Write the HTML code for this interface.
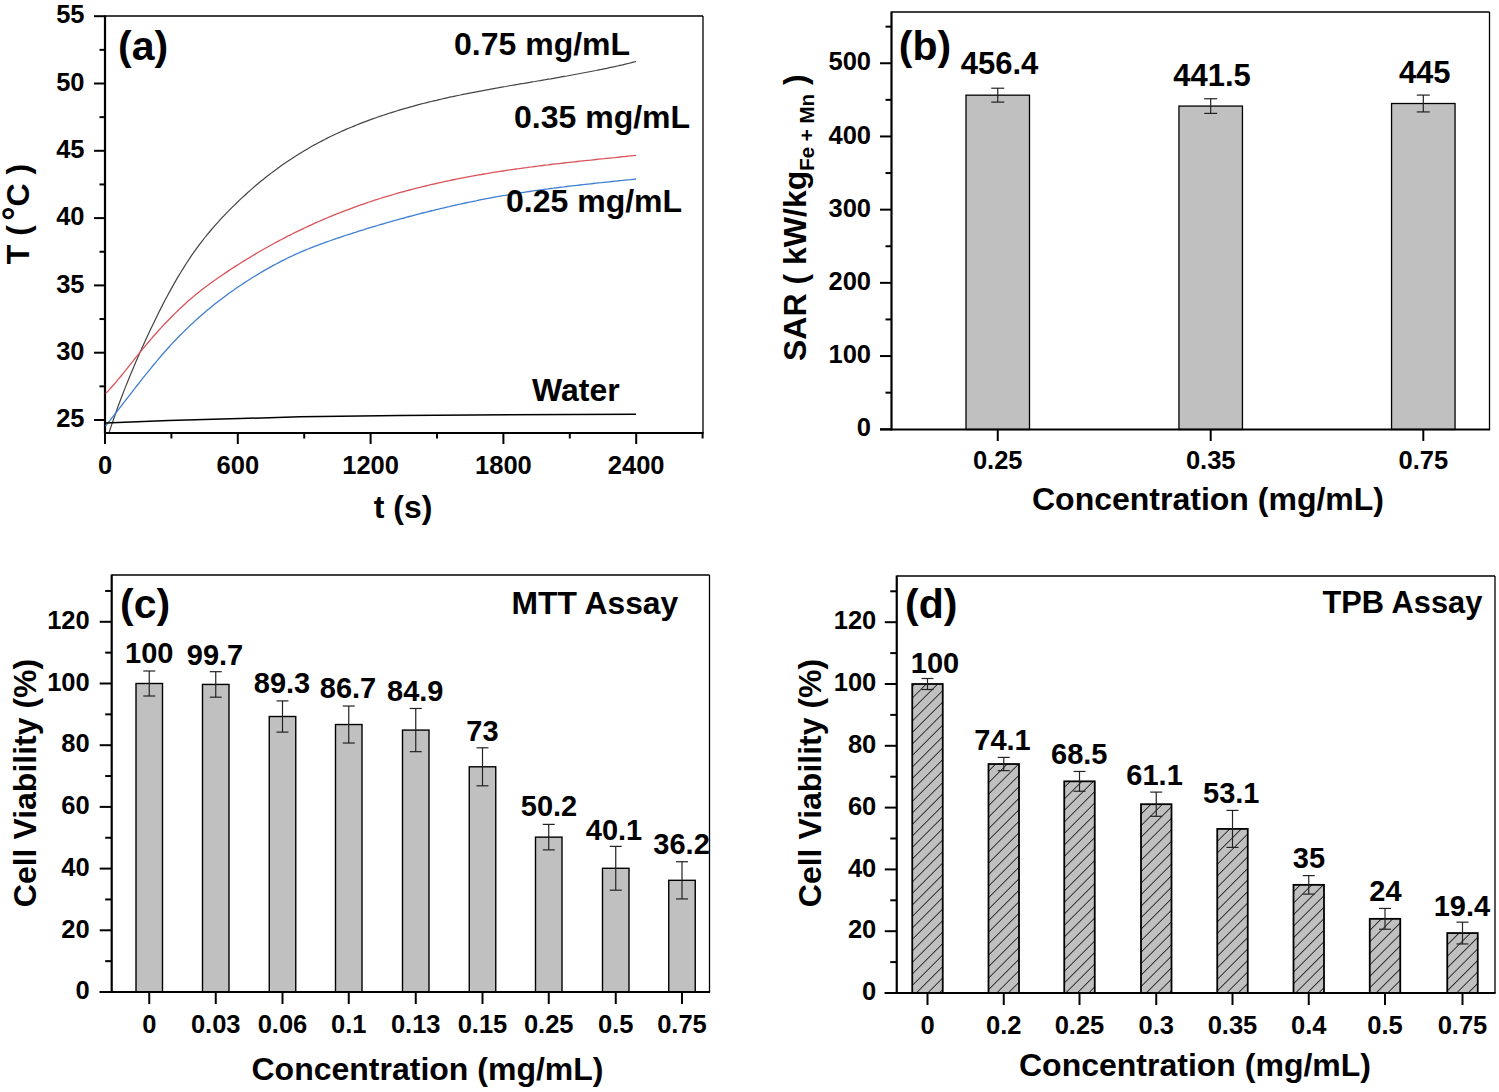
<!DOCTYPE html>
<html><head><meta charset="utf-8"><style>
html,body{margin:0;padding:0;background:#fff;}
svg{display:block;font-family:"Liberation Sans", sans-serif;}
</style></head><body>
<svg width="1499" height="1092" viewBox="0 0 1499 1092">
<defs><pattern id="hatch" patternUnits="userSpaceOnUse" width="8.13" height="8.13" patternTransform="rotate(45)">
<rect width="8.13" height="8.13" fill="#c0c0c0"/><line x1="0" y1="0" x2="0" y2="8.13" stroke="#000" stroke-width="1.5"/></pattern>
<clipPath id="clipA"><rect x="105" y="16" width="598" height="416"/></clipPath></defs>
<rect width="1499" height="1092" fill="#fff"/>
<line x1="105.00" y1="16.00" x2="703.00" y2="16.00" stroke="#000" stroke-width="1.3"/>
<line x1="703.00" y1="16.00" x2="703.00" y2="433.00" stroke="#000" stroke-width="1.3"/>
<line x1="105.00" y1="15.40" x2="105.00" y2="434.00" stroke="#000" stroke-width="2.2"/>
<line x1="104.00" y1="433.00" x2="703.60" y2="433.00" stroke="#000" stroke-width="2.2"/>
<line x1="94.00" y1="420.00" x2="105.00" y2="420.00" stroke="#000" stroke-width="2"/>
<text x="84.50" y="427.20" font-size="25.5" text-anchor="end" font-weight="bold" >25</text>
<line x1="94.00" y1="352.70" x2="105.00" y2="352.70" stroke="#000" stroke-width="2"/>
<text x="84.50" y="359.90" font-size="25.5" text-anchor="end" font-weight="bold" >30</text>
<line x1="94.00" y1="285.40" x2="105.00" y2="285.40" stroke="#000" stroke-width="2"/>
<text x="84.50" y="292.60" font-size="25.5" text-anchor="end" font-weight="bold" >35</text>
<line x1="94.00" y1="218.10" x2="105.00" y2="218.10" stroke="#000" stroke-width="2"/>
<text x="84.50" y="225.30" font-size="25.5" text-anchor="end" font-weight="bold" >40</text>
<line x1="94.00" y1="150.80" x2="105.00" y2="150.80" stroke="#000" stroke-width="2"/>
<text x="84.50" y="158.00" font-size="25.5" text-anchor="end" font-weight="bold" >45</text>
<line x1="94.00" y1="83.50" x2="105.00" y2="83.50" stroke="#000" stroke-width="2"/>
<text x="84.50" y="90.70" font-size="25.5" text-anchor="end" font-weight="bold" >50</text>
<line x1="94.00" y1="16.20" x2="105.00" y2="16.20" stroke="#000" stroke-width="2"/>
<text x="84.50" y="23.40" font-size="25.5" text-anchor="end" font-weight="bold" >55</text>
<line x1="99.50" y1="386.35" x2="105.00" y2="386.35" stroke="#000" stroke-width="2"/>
<line x1="99.50" y1="319.05" x2="105.00" y2="319.05" stroke="#000" stroke-width="2"/>
<line x1="99.50" y1="251.75" x2="105.00" y2="251.75" stroke="#000" stroke-width="2"/>
<line x1="99.50" y1="184.45" x2="105.00" y2="184.45" stroke="#000" stroke-width="2"/>
<line x1="99.50" y1="117.15" x2="105.00" y2="117.15" stroke="#000" stroke-width="2"/>
<line x1="99.50" y1="49.85" x2="105.00" y2="49.85" stroke="#000" stroke-width="2"/>
<line x1="105.00" y1="433.00" x2="105.00" y2="444.00" stroke="#000" stroke-width="2"/>
<text x="105.00" y="474.00" font-size="25.5" text-anchor="middle" font-weight="bold" >0</text>
<line x1="237.80" y1="433.00" x2="237.80" y2="444.00" stroke="#000" stroke-width="2"/>
<text x="237.80" y="474.00" font-size="25.5" text-anchor="middle" font-weight="bold" >600</text>
<line x1="370.60" y1="433.00" x2="370.60" y2="444.00" stroke="#000" stroke-width="2"/>
<text x="370.60" y="474.00" font-size="25.5" text-anchor="middle" font-weight="bold" >1200</text>
<line x1="503.40" y1="433.00" x2="503.40" y2="444.00" stroke="#000" stroke-width="2"/>
<text x="503.40" y="474.00" font-size="25.5" text-anchor="middle" font-weight="bold" >1800</text>
<line x1="636.20" y1="433.00" x2="636.20" y2="444.00" stroke="#000" stroke-width="2"/>
<text x="636.20" y="474.00" font-size="25.5" text-anchor="middle" font-weight="bold" >2400</text>
<line x1="171.40" y1="433.00" x2="171.40" y2="438.50" stroke="#000" stroke-width="2"/>
<line x1="304.20" y1="433.00" x2="304.20" y2="438.50" stroke="#000" stroke-width="2"/>
<line x1="437.00" y1="433.00" x2="437.00" y2="438.50" stroke="#000" stroke-width="2"/>
<line x1="569.80" y1="433.00" x2="569.80" y2="438.50" stroke="#000" stroke-width="2"/>
<line x1="702.60" y1="433.00" x2="702.60" y2="438.50" stroke="#000" stroke-width="2"/>
<g clip-path="url(#clipA)">
<path d="M106.5,440.5 L109.2,432.2 L111.8,424.2 L114.5,416.5 L117.1,409.0 L119.8,401.7 L122.5,394.7 L125.1,387.9 L127.8,381.2 L130.4,374.7 L133.1,368.4 L135.8,362.1 L138.4,356.0 L141.1,350.0 L143.8,344.1 L146.4,338.3 L149.1,332.6 L151.7,326.9 L154.4,321.4 L157.1,316.0 L159.7,310.6 L162.4,305.4 L165.0,300.3 L167.7,295.3 L170.4,290.4 L173.0,285.6 L175.7,280.9 L178.3,276.4 L181.0,272.0 L183.7,267.6 L186.3,263.5 L189.0,259.4 L191.6,255.4 L194.3,251.6 L197.0,247.9 L199.6,244.3 L202.3,240.8 L204.9,237.5 L207.6,234.2 L210.3,231.0 L212.9,227.9 L215.6,224.8 L218.3,221.8 L220.9,218.9 L223.6,216.1 L226.2,213.3 L228.9,210.6 L231.6,207.9 L234.2,205.3 L236.9,202.7 L239.5,200.1 L242.2,197.6 L244.9,195.2 L247.5,192.7 L250.2,190.4 L252.8,188.1 L255.5,185.8 L258.2,183.5 L260.8,181.3 L263.5,179.2 L266.1,177.0 L268.8,175.0 L271.5,172.9 L274.1,170.9 L276.8,169.0 L279.5,167.0 L282.1,165.1 L284.8,163.3 L287.4,161.5 L290.1,159.7 L292.8,157.9 L295.4,156.2 L298.1,154.5 L300.7,152.9 L303.4,151.3 L306.1,149.7 L308.7,148.2 L311.4,146.6 L314.0,145.1 L316.7,143.7 L319.4,142.3 L322.0,140.9 L324.7,139.5 L327.3,138.1 L330.0,136.8 L332.7,135.5 L335.3,134.3 L338.0,133.0 L340.7,131.8 L343.3,130.6 L346.0,129.4 L348.6,128.3 L351.3,127.2 L354.0,126.1 L356.6,125.0 L359.3,123.9 L361.9,122.9 L364.6,121.9 L367.3,120.9 L369.9,119.9 L372.6,118.9 L375.2,118.0 L377.9,117.0 L380.6,116.1 L383.2,115.2 L385.9,114.4 L388.5,113.5 L391.2,112.6 L393.9,111.8 L396.5,111.0 L399.2,110.2 L401.8,109.4 L404.5,108.6 L407.2,107.9 L409.8,107.1 L412.5,106.4 L415.2,105.6 L417.8,104.9 L420.5,104.2 L423.1,103.5 L425.8,102.9 L428.5,102.2 L431.1,101.5 L433.8,100.9 L436.4,100.3 L439.1,99.6 L441.8,99.0 L444.4,98.4 L447.1,97.8 L449.7,97.2 L452.4,96.7 L455.1,96.1 L457.7,95.5 L460.4,95.0 L463.0,94.4 L465.7,93.9 L468.4,93.3 L471.0,92.8 L473.7,92.3 L476.4,91.8 L479.0,91.3 L481.7,90.8 L484.3,90.3 L487.0,89.8 L489.7,89.3 L492.3,88.8 L495.0,88.3 L497.6,87.9 L500.3,87.4 L503.0,86.9 L505.6,86.5 L508.3,86.0 L510.9,85.5 L513.6,85.1 L516.3,84.6 L518.9,84.2 L521.6,83.7 L524.2,83.3 L526.9,82.8 L529.6,82.4 L532.2,81.9 L534.9,81.5 L537.6,81.0 L540.2,80.6 L542.9,80.1 L545.5,79.7 L548.2,79.2 L550.9,78.8 L553.5,78.3 L556.2,77.8 L558.8,77.4 L561.5,76.9 L564.2,76.4 L566.8,76.0 L569.5,75.5 L572.1,75.0 L574.8,74.5 L577.5,74.0 L580.1,73.5 L582.8,73.0 L585.4,72.5 L588.1,72.0 L590.8,71.5 L593.4,71.0 L596.1,70.5 L598.7,69.9 L601.4,69.4 L604.1,68.8 L606.7,68.3 L609.4,67.7 L612.1,67.1 L614.7,66.6 L617.4,66.0 L620.0,65.4 L622.7,64.8 L625.4,64.1 L628.0,63.5 L630.7,62.9 L633.3,62.2 L636.0,61.5" fill="none" stroke="#444" stroke-width="1.2"/>
<path d="M105.5,393.6 L108.2,390.9 L110.8,388.0 L113.5,385.0 L116.2,381.9 L118.8,378.7 L121.5,375.5 L124.2,372.2 L126.8,368.8 L129.5,365.4 L132.2,362.1 L134.8,358.7 L137.5,355.4 L140.2,352.1 L142.8,348.8 L145.5,345.6 L148.2,342.5 L150.8,339.4 L153.5,336.3 L156.2,333.3 L158.8,330.3 L161.5,327.4 L164.1,324.5 L166.8,321.7 L169.5,319.0 L172.1,316.2 L174.8,313.6 L177.5,311.0 L180.1,308.4 L182.8,306.0 L185.5,303.5 L188.1,301.1 L190.8,298.8 L193.5,296.6 L196.1,294.3 L198.8,292.2 L201.5,290.1 L204.1,288.0 L206.8,286.0 L209.5,284.0 L212.1,282.1 L214.8,280.2 L217.5,278.3 L220.1,276.5 L222.8,274.7 L225.5,272.9 L228.1,271.1 L230.8,269.3 L233.5,267.6 L236.1,265.9 L238.8,264.2 L241.5,262.5 L244.1,260.9 L246.8,259.2 L249.5,257.6 L252.1,256.0 L254.8,254.4 L257.5,252.8 L260.1,251.3 L262.8,249.7 L265.4,248.2 L268.1,246.7 L270.8,245.2 L273.4,243.8 L276.1,242.3 L278.8,240.9 L281.4,239.5 L284.1,238.1 L286.8,236.7 L289.4,235.3 L292.1,234.0 L294.8,232.7 L297.4,231.4 L300.1,230.1 L302.8,228.8 L305.4,227.5 L308.1,226.3 L310.8,225.1 L313.4,223.9 L316.1,222.7 L318.8,221.5 L321.4,220.3 L324.1,219.2 L326.8,218.0 L329.4,216.9 L332.1,215.8 L334.8,214.7 L337.4,213.7 L340.1,212.6 L342.8,211.6 L345.4,210.6 L348.1,209.6 L350.8,208.6 L353.4,207.6 L356.1,206.6 L358.8,205.7 L361.4,204.7 L364.1,203.8 L366.8,202.9 L369.4,202.0 L372.1,201.1 L374.7,200.2 L377.4,199.4 L380.1,198.5 L382.7,197.7 L385.4,196.9 L388.1,196.1 L390.7,195.3 L393.4,194.5 L396.1,193.7 L398.7,192.9 L401.4,192.2 L404.1,191.5 L406.7,190.7 L409.4,190.0 L412.1,189.3 L414.7,188.6 L417.4,187.9 L420.1,187.3 L422.7,186.6 L425.4,186.0 L428.1,185.3 L430.7,184.7 L433.4,184.1 L436.1,183.5 L438.7,182.9 L441.4,182.3 L444.1,181.7 L446.7,181.1 L449.4,180.6 L452.1,180.0 L454.7,179.5 L457.4,178.9 L460.1,178.4 L462.7,177.9 L465.4,177.4 L468.1,176.9 L470.7,176.4 L473.4,175.9 L476.1,175.4 L478.7,174.9 L481.4,174.5 L484.0,174.0 L486.7,173.6 L489.4,173.1 L492.0,172.7 L494.7,172.2 L497.4,171.8 L500.0,171.4 L502.7,171.0 L505.4,170.6 L508.0,170.2 L510.7,169.8 L513.4,169.4 L516.0,169.0 L518.7,168.7 L521.4,168.3 L524.0,167.9 L526.7,167.6 L529.4,167.2 L532.0,166.9 L534.7,166.5 L537.4,166.2 L540.0,165.8 L542.7,165.5 L545.4,165.2 L548.0,164.9 L550.7,164.5 L553.4,164.2 L556.0,163.9 L558.7,163.6 L561.4,163.3 L564.0,163.0 L566.7,162.7 L569.4,162.4 L572.0,162.1 L574.7,161.8 L577.4,161.5 L580.0,161.2 L582.7,160.9 L585.3,160.6 L588.0,160.3 L590.7,160.1 L593.3,159.8 L596.0,159.5 L598.7,159.2 L601.3,158.9 L604.0,158.7 L606.7,158.4 L609.3,158.1 L612.0,157.8 L614.7,157.6 L617.3,157.3 L620.0,157.0 L622.7,156.7 L625.3,156.5 L628.0,156.2 L630.7,155.9 L633.3,155.6 L636.0,155.4" fill="none" stroke="#d9545a" stroke-width="1.3"/>
<path d="M105.5,426.0 L108.2,422.7 L110.8,419.3 L113.5,415.9 L116.2,412.5 L118.8,409.1 L121.5,405.6 L124.2,402.2 L126.8,398.7 L129.5,395.3 L132.2,391.8 L134.8,388.4 L137.5,385.0 L140.2,381.6 L142.8,378.2 L145.5,374.9 L148.2,371.6 L150.8,368.3 L153.5,365.0 L156.2,361.8 L158.8,358.6 L161.5,355.5 L164.1,352.5 L166.8,349.5 L169.5,346.5 L172.1,343.6 L174.8,340.8 L177.5,338.0 L180.1,335.3 L182.8,332.6 L185.5,330.0 L188.1,327.4 L190.8,324.8 L193.5,322.4 L196.1,319.9 L198.8,317.5 L201.5,315.2 L204.1,312.9 L206.8,310.6 L209.5,308.4 L212.1,306.2 L214.8,304.1 L217.5,302.0 L220.1,299.9 L222.8,297.9 L225.5,295.9 L228.1,294.0 L230.8,292.0 L233.5,290.2 L236.1,288.3 L238.8,286.5 L241.5,284.7 L244.1,282.9 L246.8,281.2 L249.5,279.5 L252.1,277.8 L254.8,276.2 L257.5,274.6 L260.1,273.0 L262.8,271.4 L265.4,269.9 L268.1,268.4 L270.8,266.9 L273.4,265.4 L276.1,264.0 L278.8,262.6 L281.4,261.2 L284.1,259.9 L286.8,258.5 L289.4,257.2 L292.1,256.0 L294.8,254.7 L297.4,253.5 L300.1,252.3 L302.8,251.2 L305.4,250.1 L308.1,249.0 L310.8,247.9 L313.4,246.8 L316.1,245.8 L318.8,244.8 L321.4,243.8 L324.1,242.9 L326.8,241.9 L329.4,241.0 L332.1,240.0 L334.8,239.1 L337.4,238.2 L340.1,237.3 L342.8,236.4 L345.4,235.5 L348.1,234.6 L350.8,233.8 L353.4,232.9 L356.1,232.1 L358.8,231.2 L361.4,230.4 L364.1,229.6 L366.8,228.7 L369.4,227.9 L372.1,227.1 L374.7,226.3 L377.4,225.5 L380.1,224.7 L382.7,224.0 L385.4,223.2 L388.1,222.4 L390.7,221.7 L393.4,220.9 L396.1,220.2 L398.7,219.4 L401.4,218.7 L404.1,218.0 L406.7,217.2 L409.4,216.5 L412.1,215.8 L414.7,215.1 L417.4,214.4 L420.1,213.7 L422.7,213.0 L425.4,212.4 L428.1,211.7 L430.7,211.0 L433.4,210.4 L436.1,209.7 L438.7,209.1 L441.4,208.4 L444.1,207.8 L446.7,207.2 L449.4,206.6 L452.1,205.9 L454.7,205.3 L457.4,204.7 L460.1,204.2 L462.7,203.6 L465.4,203.0 L468.1,202.4 L470.7,201.9 L473.4,201.3 L476.1,200.8 L478.7,200.2 L481.4,199.7 L484.0,199.2 L486.7,198.7 L489.4,198.2 L492.0,197.7 L494.7,197.2 L497.4,196.7 L500.0,196.2 L502.7,195.7 L505.4,195.3 L508.0,194.8 L510.7,194.4 L513.4,193.9 L516.0,193.5 L518.7,193.1 L521.4,192.7 L524.0,192.3 L526.7,191.9 L529.4,191.5 L532.0,191.1 L534.7,190.7 L537.4,190.3 L540.0,189.9 L542.7,189.6 L545.4,189.2 L548.0,188.9 L550.7,188.5 L553.4,188.2 L556.0,187.8 L558.7,187.5 L561.4,187.2 L564.0,186.9 L566.7,186.5 L569.4,186.2 L572.0,185.9 L574.7,185.6 L577.4,185.3 L580.0,185.0 L582.7,184.7 L585.3,184.4 L588.0,184.1 L590.7,183.8 L593.3,183.5 L596.0,183.2 L598.7,182.9 L601.3,182.7 L604.0,182.4 L606.7,182.1 L609.3,181.8 L612.0,181.5 L614.7,181.2 L617.3,181.0 L620.0,180.7 L622.7,180.4 L625.3,180.1 L628.0,179.8 L630.7,179.6 L633.3,179.3 L636.0,179.0" fill="none" stroke="#3f7fd0" stroke-width="1.3"/>
<path d="M105.5,423 L168.7,420.4 L240,418.6 L300,416.8 L400,415.4 L636,414.2" fill="none" stroke="#000" stroke-width="1.5"/>
</g>
<text x="118.00" y="59.80" font-size="41" text-anchor="start" font-weight="bold" >(a)</text>
<text x="454.00" y="54.50" font-size="32" text-anchor="start" font-weight="bold" >0.75 mg/mL</text>
<text x="514.00" y="128.00" font-size="32" text-anchor="start" font-weight="bold" >0.35 mg/mL</text>
<text x="506.00" y="211.60" font-size="32" text-anchor="start" font-weight="bold" >0.25 mg/mL</text>
<text x="532.00" y="401.00" font-size="32" text-anchor="start" font-weight="bold" >Water</text>
<text x="403.00" y="518.00" font-size="32" text-anchor="middle" font-weight="bold" >t (s)</text>
<text transform="translate(29,214) rotate(-90)" font-size="32" text-anchor="middle" font-weight="bold">T ( <tspan font-size="36" dx="-4.5" dy="-1.5">°</tspan><tspan dy="1.5">C )</tspan></text>
<line x1="891.50" y1="12.00" x2="1489.50" y2="12.00" stroke="#000" stroke-width="1.3"/>
<line x1="1489.50" y1="12.00" x2="1489.50" y2="429.50" stroke="#000" stroke-width="1.3"/>
<line x1="880.00" y1="429.25" x2="891.50" y2="429.25" stroke="#000" stroke-width="2"/>
<text x="871.00" y="436.45" font-size="25.5" text-anchor="end" font-weight="bold" >0</text>
<line x1="880.00" y1="356.05" x2="891.50" y2="356.05" stroke="#000" stroke-width="2"/>
<text x="871.00" y="363.25" font-size="25.5" text-anchor="end" font-weight="bold" >100</text>
<line x1="880.00" y1="282.85" x2="891.50" y2="282.85" stroke="#000" stroke-width="2"/>
<text x="871.00" y="290.05" font-size="25.5" text-anchor="end" font-weight="bold" >200</text>
<line x1="880.00" y1="209.65" x2="891.50" y2="209.65" stroke="#000" stroke-width="2"/>
<text x="871.00" y="216.85" font-size="25.5" text-anchor="end" font-weight="bold" >300</text>
<line x1="880.00" y1="136.45" x2="891.50" y2="136.45" stroke="#000" stroke-width="2"/>
<text x="871.00" y="143.65" font-size="25.5" text-anchor="end" font-weight="bold" >400</text>
<line x1="880.00" y1="63.25" x2="891.50" y2="63.25" stroke="#000" stroke-width="2"/>
<text x="871.00" y="70.45" font-size="25.5" text-anchor="end" font-weight="bold" >500</text>
<line x1="885.50" y1="392.65" x2="891.50" y2="392.65" stroke="#000" stroke-width="2"/>
<line x1="885.50" y1="319.45" x2="891.50" y2="319.45" stroke="#000" stroke-width="2"/>
<line x1="885.50" y1="246.25" x2="891.50" y2="246.25" stroke="#000" stroke-width="2"/>
<line x1="885.50" y1="173.05" x2="891.50" y2="173.05" stroke="#000" stroke-width="2"/>
<line x1="885.50" y1="99.85" x2="891.50" y2="99.85" stroke="#000" stroke-width="2"/>
<line x1="885.50" y1="26.65" x2="891.50" y2="26.65" stroke="#000" stroke-width="2"/>
<rect x="966.00" y="95.17" width="63.5" height="334.33" fill="#c0c0c0" stroke="#000" stroke-width="1.3"/>
<line x1="997.75" y1="88.21" x2="997.75" y2="102.12" stroke="#222" stroke-width="1.2"/>
<line x1="991.25" y1="88.21" x2="1004.25" y2="88.21" stroke="#222" stroke-width="1.2"/>
<line x1="991.25" y1="102.12" x2="1004.25" y2="102.12" stroke="#222" stroke-width="1.2"/>
<text x="999.50" y="74.00" font-size="31" text-anchor="middle" font-weight="bold" >456.4</text>
<line x1="997.75" y1="429.50" x2="997.75" y2="441.00" stroke="#000" stroke-width="2"/>
<text x="997.75" y="468.70" font-size="25.5" text-anchor="middle" font-weight="bold" >0.25</text>
<rect x="1178.95" y="106.07" width="63.5" height="323.43" fill="#c0c0c0" stroke="#000" stroke-width="1.3"/>
<line x1="1210.70" y1="98.75" x2="1210.70" y2="113.39" stroke="#222" stroke-width="1.2"/>
<line x1="1204.20" y1="98.75" x2="1217.20" y2="98.75" stroke="#222" stroke-width="1.2"/>
<line x1="1204.20" y1="113.39" x2="1217.20" y2="113.39" stroke="#222" stroke-width="1.2"/>
<text x="1212.00" y="85.75" font-size="31" text-anchor="middle" font-weight="bold" >441.5</text>
<line x1="1210.70" y1="429.50" x2="1210.70" y2="441.00" stroke="#000" stroke-width="2"/>
<text x="1210.70" y="468.70" font-size="25.5" text-anchor="middle" font-weight="bold" >0.35</text>
<rect x="1391.55" y="103.51" width="63.5" height="325.99" fill="#c0c0c0" stroke="#000" stroke-width="1.3"/>
<line x1="1423.30" y1="95.09" x2="1423.30" y2="111.93" stroke="#222" stroke-width="1.2"/>
<line x1="1416.80" y1="95.09" x2="1429.80" y2="95.09" stroke="#222" stroke-width="1.2"/>
<line x1="1416.80" y1="111.93" x2="1429.80" y2="111.93" stroke="#222" stroke-width="1.2"/>
<text x="1424.75" y="83.00" font-size="31" text-anchor="middle" font-weight="bold" >445</text>
<line x1="1423.30" y1="429.50" x2="1423.30" y2="441.00" stroke="#000" stroke-width="2"/>
<text x="1423.30" y="468.70" font-size="25.5" text-anchor="middle" font-weight="bold" >0.75</text>
<line x1="891.50" y1="11.40" x2="891.50" y2="430.50" stroke="#000" stroke-width="2.2"/>
<line x1="880.00" y1="429.50" x2="1490.10" y2="429.50" stroke="#000" stroke-width="2.2"/>
<text x="898.80" y="59.80" font-size="41" text-anchor="start" font-weight="bold" >(b)</text>
<text x="1208.00" y="510.00" font-size="32" text-anchor="middle" font-weight="bold" >Concentration (mg/mL)</text>
<text transform="translate(806,361) rotate(-90)" font-size="32" font-weight="bold">SAR ( kW/kg<tspan font-size="20.5" dy="8">Fe + Mn</tspan><tspan dy="-8"> )</tspan></text>
<line x1="111.70" y1="575.00" x2="709.50" y2="575.00" stroke="#000" stroke-width="1.3"/>
<line x1="709.50" y1="575.00" x2="709.50" y2="992.00" stroke="#000" stroke-width="1.3"/>
<line x1="99.70" y1="992.00" x2="111.70" y2="992.00" stroke="#000" stroke-width="2"/>
<text x="89.70" y="999.20" font-size="25.5" text-anchor="end" font-weight="bold" >0</text>
<line x1="99.70" y1="930.30" x2="111.70" y2="930.30" stroke="#000" stroke-width="2"/>
<text x="89.70" y="937.50" font-size="25.5" text-anchor="end" font-weight="bold" >20</text>
<line x1="99.70" y1="868.60" x2="111.70" y2="868.60" stroke="#000" stroke-width="2"/>
<text x="89.70" y="875.80" font-size="25.5" text-anchor="end" font-weight="bold" >40</text>
<line x1="99.70" y1="806.90" x2="111.70" y2="806.90" stroke="#000" stroke-width="2"/>
<text x="89.70" y="814.10" font-size="25.5" text-anchor="end" font-weight="bold" >60</text>
<line x1="99.70" y1="745.20" x2="111.70" y2="745.20" stroke="#000" stroke-width="2"/>
<text x="89.70" y="752.40" font-size="25.5" text-anchor="end" font-weight="bold" >80</text>
<line x1="99.70" y1="683.50" x2="111.70" y2="683.50" stroke="#000" stroke-width="2"/>
<text x="89.70" y="690.70" font-size="25.5" text-anchor="end" font-weight="bold" >100</text>
<line x1="99.70" y1="621.80" x2="111.70" y2="621.80" stroke="#000" stroke-width="2"/>
<text x="89.70" y="629.00" font-size="25.5" text-anchor="end" font-weight="bold" >120</text>
<line x1="105.20" y1="961.15" x2="111.70" y2="961.15" stroke="#000" stroke-width="2"/>
<line x1="105.20" y1="899.45" x2="111.70" y2="899.45" stroke="#000" stroke-width="2"/>
<line x1="105.20" y1="837.75" x2="111.70" y2="837.75" stroke="#000" stroke-width="2"/>
<line x1="105.20" y1="776.05" x2="111.70" y2="776.05" stroke="#000" stroke-width="2"/>
<line x1="105.20" y1="714.35" x2="111.70" y2="714.35" stroke="#000" stroke-width="2"/>
<line x1="105.20" y1="652.65" x2="111.70" y2="652.65" stroke="#000" stroke-width="2"/>
<line x1="105.20" y1="590.95" x2="111.70" y2="590.95" stroke="#000" stroke-width="2"/>
<rect x="136.00" y="683.50" width="26.5" height="308.50" fill="#c0c0c0" stroke="#000" stroke-width="1.4"/>
<line x1="149.25" y1="671.00" x2="149.25" y2="696.00" stroke="#222" stroke-width="1.2"/>
<line x1="143.25" y1="671.00" x2="155.25" y2="671.00" stroke="#222" stroke-width="1.2"/>
<line x1="143.25" y1="696.00" x2="155.25" y2="696.00" stroke="#222" stroke-width="1.2"/>
<text x="149.25" y="663.00" font-size="29" text-anchor="middle" font-weight="bold" >100</text>
<line x1="149.25" y1="992.00" x2="149.25" y2="1004.00" stroke="#000" stroke-width="2"/>
<text x="149.25" y="1032.50" font-size="25.5" text-anchor="middle" font-weight="bold" >0</text>
<rect x="202.50" y="684.43" width="26.5" height="307.57" fill="#c0c0c0" stroke="#000" stroke-width="1.4"/>
<line x1="215.75" y1="671.68" x2="215.75" y2="697.18" stroke="#222" stroke-width="1.2"/>
<line x1="209.75" y1="671.68" x2="221.75" y2="671.68" stroke="#222" stroke-width="1.2"/>
<line x1="209.75" y1="697.18" x2="221.75" y2="697.18" stroke="#222" stroke-width="1.2"/>
<text x="215.00" y="665.00" font-size="29" text-anchor="middle" font-weight="bold" >99.7</text>
<line x1="215.75" y1="992.00" x2="215.75" y2="1004.00" stroke="#000" stroke-width="2"/>
<text x="215.75" y="1032.50" font-size="25.5" text-anchor="middle" font-weight="bold" >0.03</text>
<rect x="269.25" y="716.51" width="26.5" height="275.49" fill="#c0c0c0" stroke="#000" stroke-width="1.4"/>
<line x1="282.50" y1="700.91" x2="282.50" y2="732.11" stroke="#222" stroke-width="1.2"/>
<line x1="276.50" y1="700.91" x2="288.50" y2="700.91" stroke="#222" stroke-width="1.2"/>
<line x1="276.50" y1="732.11" x2="288.50" y2="732.11" stroke="#222" stroke-width="1.2"/>
<text x="282.00" y="692.50" font-size="29" text-anchor="middle" font-weight="bold" >89.3</text>
<line x1="282.50" y1="992.00" x2="282.50" y2="1004.00" stroke="#000" stroke-width="2"/>
<text x="282.50" y="1032.50" font-size="25.5" text-anchor="middle" font-weight="bold" >0.06</text>
<rect x="335.50" y="724.53" width="26.5" height="267.47" fill="#c0c0c0" stroke="#000" stroke-width="1.4"/>
<line x1="348.75" y1="706.03" x2="348.75" y2="743.03" stroke="#222" stroke-width="1.2"/>
<line x1="342.75" y1="706.03" x2="354.75" y2="706.03" stroke="#222" stroke-width="1.2"/>
<line x1="342.75" y1="743.03" x2="354.75" y2="743.03" stroke="#222" stroke-width="1.2"/>
<text x="348.00" y="697.50" font-size="29" text-anchor="middle" font-weight="bold" >86.7</text>
<line x1="348.75" y1="992.00" x2="348.75" y2="1004.00" stroke="#000" stroke-width="2"/>
<text x="348.75" y="1032.50" font-size="25.5" text-anchor="middle" font-weight="bold" >0.1</text>
<rect x="402.50" y="730.08" width="26.5" height="261.92" fill="#c0c0c0" stroke="#000" stroke-width="1.4"/>
<line x1="415.75" y1="708.48" x2="415.75" y2="751.68" stroke="#222" stroke-width="1.2"/>
<line x1="409.75" y1="708.48" x2="421.75" y2="708.48" stroke="#222" stroke-width="1.2"/>
<line x1="409.75" y1="751.68" x2="421.75" y2="751.68" stroke="#222" stroke-width="1.2"/>
<text x="415.25" y="700.75" font-size="29" text-anchor="middle" font-weight="bold" >84.9</text>
<line x1="415.75" y1="992.00" x2="415.75" y2="1004.00" stroke="#000" stroke-width="2"/>
<text x="415.75" y="1032.50" font-size="25.5" text-anchor="middle" font-weight="bold" >0.13</text>
<rect x="469.25" y="766.80" width="26.5" height="225.20" fill="#c0c0c0" stroke="#000" stroke-width="1.4"/>
<line x1="482.50" y1="747.80" x2="482.50" y2="785.80" stroke="#222" stroke-width="1.2"/>
<line x1="476.50" y1="747.80" x2="488.50" y2="747.80" stroke="#222" stroke-width="1.2"/>
<line x1="476.50" y1="785.80" x2="488.50" y2="785.80" stroke="#222" stroke-width="1.2"/>
<text x="482.50" y="740.50" font-size="29" text-anchor="middle" font-weight="bold" >73</text>
<line x1="482.50" y1="992.00" x2="482.50" y2="1004.00" stroke="#000" stroke-width="2"/>
<text x="482.50" y="1032.50" font-size="25.5" text-anchor="middle" font-weight="bold" >0.15</text>
<rect x="535.50" y="837.13" width="26.5" height="154.87" fill="#c0c0c0" stroke="#000" stroke-width="1.4"/>
<line x1="548.75" y1="824.38" x2="548.75" y2="849.88" stroke="#222" stroke-width="1.2"/>
<line x1="542.75" y1="824.38" x2="554.75" y2="824.38" stroke="#222" stroke-width="1.2"/>
<line x1="542.75" y1="849.88" x2="554.75" y2="849.88" stroke="#222" stroke-width="1.2"/>
<text x="549.00" y="816.25" font-size="29" text-anchor="middle" font-weight="bold" >50.2</text>
<line x1="548.75" y1="992.00" x2="548.75" y2="1004.00" stroke="#000" stroke-width="2"/>
<text x="548.75" y="1032.50" font-size="25.5" text-anchor="middle" font-weight="bold" >0.25</text>
<rect x="602.50" y="868.29" width="26.5" height="123.71" fill="#c0c0c0" stroke="#000" stroke-width="1.4"/>
<line x1="615.75" y1="846.39" x2="615.75" y2="890.19" stroke="#222" stroke-width="1.2"/>
<line x1="609.75" y1="846.39" x2="621.75" y2="846.39" stroke="#222" stroke-width="1.2"/>
<line x1="609.75" y1="890.19" x2="621.75" y2="890.19" stroke="#222" stroke-width="1.2"/>
<text x="614.00" y="839.50" font-size="29" text-anchor="middle" font-weight="bold" >40.1</text>
<line x1="615.75" y1="992.00" x2="615.75" y2="1004.00" stroke="#000" stroke-width="2"/>
<text x="615.75" y="1032.50" font-size="25.5" text-anchor="middle" font-weight="bold" >0.5</text>
<rect x="668.75" y="880.32" width="26.5" height="111.68" fill="#c0c0c0" stroke="#000" stroke-width="1.4"/>
<line x1="682.00" y1="861.72" x2="682.00" y2="898.92" stroke="#222" stroke-width="1.2"/>
<line x1="676.00" y1="861.72" x2="688.00" y2="861.72" stroke="#222" stroke-width="1.2"/>
<line x1="676.00" y1="898.92" x2="688.00" y2="898.92" stroke="#222" stroke-width="1.2"/>
<text x="681.60" y="853.75" font-size="29" text-anchor="middle" font-weight="bold" >36.2</text>
<line x1="682.00" y1="992.00" x2="682.00" y2="1004.00" stroke="#000" stroke-width="2"/>
<text x="682.00" y="1032.50" font-size="25.5" text-anchor="middle" font-weight="bold" >0.75</text>
<line x1="111.70" y1="574.40" x2="111.70" y2="993.00" stroke="#000" stroke-width="2.2"/>
<line x1="99.70" y1="992.00" x2="710.10" y2="992.00" stroke="#000" stroke-width="2.2"/>
<text x="120.00" y="618.00" font-size="41" text-anchor="start" font-weight="bold" >(c)</text>
<text x="511.50" y="614.00" font-size="31.8" text-anchor="start" font-weight="bold" >MTT Assay</text>
<text transform="translate(36,783) rotate(-90)" font-size="32" text-anchor="middle" font-weight="bold">Cell Viability (%)</text>
<text x="427.50" y="1079.75" font-size="32" text-anchor="middle" font-weight="bold" >Concentration (mg/mL)</text>
<line x1="896.75" y1="576.00" x2="1495.00" y2="576.00" stroke="#000" stroke-width="1.3"/>
<line x1="1495.00" y1="576.00" x2="1495.00" y2="993.00" stroke="#000" stroke-width="1.3"/>
<line x1="884.75" y1="993.00" x2="896.75" y2="993.00" stroke="#000" stroke-width="2"/>
<text x="876.25" y="1000.20" font-size="25.5" text-anchor="end" font-weight="bold" >0</text>
<line x1="884.75" y1="931.20" x2="896.75" y2="931.20" stroke="#000" stroke-width="2"/>
<text x="876.25" y="938.40" font-size="25.5" text-anchor="end" font-weight="bold" >20</text>
<line x1="884.75" y1="869.40" x2="896.75" y2="869.40" stroke="#000" stroke-width="2"/>
<text x="876.25" y="876.60" font-size="25.5" text-anchor="end" font-weight="bold" >40</text>
<line x1="884.75" y1="807.60" x2="896.75" y2="807.60" stroke="#000" stroke-width="2"/>
<text x="876.25" y="814.80" font-size="25.5" text-anchor="end" font-weight="bold" >60</text>
<line x1="884.75" y1="745.80" x2="896.75" y2="745.80" stroke="#000" stroke-width="2"/>
<text x="876.25" y="753.00" font-size="25.5" text-anchor="end" font-weight="bold" >80</text>
<line x1="884.75" y1="684.00" x2="896.75" y2="684.00" stroke="#000" stroke-width="2"/>
<text x="876.25" y="691.20" font-size="25.5" text-anchor="end" font-weight="bold" >100</text>
<line x1="884.75" y1="622.20" x2="896.75" y2="622.20" stroke="#000" stroke-width="2"/>
<text x="876.25" y="629.40" font-size="25.5" text-anchor="end" font-weight="bold" >120</text>
<line x1="890.25" y1="962.10" x2="896.75" y2="962.10" stroke="#000" stroke-width="2"/>
<line x1="890.25" y1="900.30" x2="896.75" y2="900.30" stroke="#000" stroke-width="2"/>
<line x1="890.25" y1="838.50" x2="896.75" y2="838.50" stroke="#000" stroke-width="2"/>
<line x1="890.25" y1="776.70" x2="896.75" y2="776.70" stroke="#000" stroke-width="2"/>
<line x1="890.25" y1="714.90" x2="896.75" y2="714.90" stroke="#000" stroke-width="2"/>
<line x1="890.25" y1="653.10" x2="896.75" y2="653.10" stroke="#000" stroke-width="2"/>
<line x1="890.25" y1="591.30" x2="896.75" y2="591.30" stroke="#000" stroke-width="2"/>
<rect x="912.25" y="684.00" width="30.5" height="309.00" fill="url(#hatch)" stroke="#000" stroke-width="1.8"/>
<line x1="927.50" y1="678.50" x2="927.50" y2="689.50" stroke="#222" stroke-width="1.2"/>
<line x1="921.50" y1="678.50" x2="933.50" y2="678.50" stroke="#222" stroke-width="1.2"/>
<line x1="921.50" y1="689.50" x2="933.50" y2="689.50" stroke="#222" stroke-width="1.2"/>
<text x="935.00" y="673.00" font-size="29" text-anchor="middle" font-weight="bold" >100</text>
<line x1="927.50" y1="993.00" x2="927.50" y2="1005.00" stroke="#000" stroke-width="2"/>
<text x="927.50" y="1033.75" font-size="25.5" text-anchor="middle" font-weight="bold" >0</text>
<rect x="988.50" y="764.03" width="30.5" height="228.97" fill="url(#hatch)" stroke="#000" stroke-width="1.8"/>
<line x1="1003.75" y1="757.43" x2="1003.75" y2="770.63" stroke="#222" stroke-width="1.2"/>
<line x1="997.75" y1="757.43" x2="1009.75" y2="757.43" stroke="#222" stroke-width="1.2"/>
<line x1="997.75" y1="770.63" x2="1009.75" y2="770.63" stroke="#222" stroke-width="1.2"/>
<text x="1002.50" y="750.00" font-size="29" text-anchor="middle" font-weight="bold" >74.1</text>
<line x1="1003.75" y1="993.00" x2="1003.75" y2="1005.00" stroke="#000" stroke-width="2"/>
<text x="1003.75" y="1033.75" font-size="25.5" text-anchor="middle" font-weight="bold" >0.2</text>
<rect x="1064.25" y="781.34" width="30.5" height="211.66" fill="url(#hatch)" stroke="#000" stroke-width="1.8"/>
<line x1="1079.50" y1="771.44" x2="1079.50" y2="791.24" stroke="#222" stroke-width="1.2"/>
<line x1="1073.50" y1="771.44" x2="1085.50" y2="771.44" stroke="#222" stroke-width="1.2"/>
<line x1="1073.50" y1="791.24" x2="1085.50" y2="791.24" stroke="#222" stroke-width="1.2"/>
<text x="1079.25" y="763.75" font-size="29" text-anchor="middle" font-weight="bold" >68.5</text>
<line x1="1079.50" y1="993.00" x2="1079.50" y2="1005.00" stroke="#000" stroke-width="2"/>
<text x="1079.50" y="1033.75" font-size="25.5" text-anchor="middle" font-weight="bold" >0.25</text>
<rect x="1141.00" y="804.20" width="30.5" height="188.80" fill="url(#hatch)" stroke="#000" stroke-width="1.8"/>
<line x1="1156.25" y1="792.10" x2="1156.25" y2="816.30" stroke="#222" stroke-width="1.2"/>
<line x1="1150.25" y1="792.10" x2="1162.25" y2="792.10" stroke="#222" stroke-width="1.2"/>
<line x1="1150.25" y1="816.30" x2="1162.25" y2="816.30" stroke="#222" stroke-width="1.2"/>
<text x="1154.60" y="785.00" font-size="29" text-anchor="middle" font-weight="bold" >61.1</text>
<line x1="1156.25" y1="993.00" x2="1156.25" y2="1005.00" stroke="#000" stroke-width="2"/>
<text x="1156.25" y="1033.75" font-size="25.5" text-anchor="middle" font-weight="bold" >0.3</text>
<rect x="1217.25" y="828.92" width="30.5" height="164.08" fill="url(#hatch)" stroke="#000" stroke-width="1.8"/>
<line x1="1232.50" y1="810.42" x2="1232.50" y2="847.42" stroke="#222" stroke-width="1.2"/>
<line x1="1226.50" y1="810.42" x2="1238.50" y2="810.42" stroke="#222" stroke-width="1.2"/>
<line x1="1226.50" y1="847.42" x2="1238.50" y2="847.42" stroke="#222" stroke-width="1.2"/>
<text x="1231.25" y="803.00" font-size="29" text-anchor="middle" font-weight="bold" >53.1</text>
<line x1="1232.50" y1="993.00" x2="1232.50" y2="1005.00" stroke="#000" stroke-width="2"/>
<text x="1232.50" y="1033.75" font-size="25.5" text-anchor="middle" font-weight="bold" >0.35</text>
<rect x="1293.50" y="884.85" width="30.5" height="108.15" fill="url(#hatch)" stroke="#000" stroke-width="1.8"/>
<line x1="1308.75" y1="875.60" x2="1308.75" y2="894.10" stroke="#222" stroke-width="1.2"/>
<line x1="1302.75" y1="875.60" x2="1314.75" y2="875.60" stroke="#222" stroke-width="1.2"/>
<line x1="1302.75" y1="894.10" x2="1314.75" y2="894.10" stroke="#222" stroke-width="1.2"/>
<text x="1309.00" y="868.00" font-size="29" text-anchor="middle" font-weight="bold" >35</text>
<line x1="1308.75" y1="993.00" x2="1308.75" y2="1005.00" stroke="#000" stroke-width="2"/>
<text x="1308.75" y="1033.75" font-size="25.5" text-anchor="middle" font-weight="bold" >0.4</text>
<rect x="1369.75" y="918.84" width="30.5" height="74.16" fill="url(#hatch)" stroke="#000" stroke-width="1.8"/>
<line x1="1385.00" y1="908.44" x2="1385.00" y2="929.24" stroke="#222" stroke-width="1.2"/>
<line x1="1379.00" y1="908.44" x2="1391.00" y2="908.44" stroke="#222" stroke-width="1.2"/>
<line x1="1379.00" y1="929.24" x2="1391.00" y2="929.24" stroke="#222" stroke-width="1.2"/>
<text x="1385.40" y="901.25" font-size="29" text-anchor="middle" font-weight="bold" >24</text>
<line x1="1385.00" y1="993.00" x2="1385.00" y2="1005.00" stroke="#000" stroke-width="2"/>
<text x="1385.00" y="1033.75" font-size="25.5" text-anchor="middle" font-weight="bold" >0.5</text>
<rect x="1447.25" y="933.05" width="30.5" height="59.95" fill="url(#hatch)" stroke="#000" stroke-width="1.8"/>
<line x1="1462.50" y1="922.15" x2="1462.50" y2="943.95" stroke="#222" stroke-width="1.2"/>
<line x1="1456.50" y1="922.15" x2="1468.50" y2="922.15" stroke="#222" stroke-width="1.2"/>
<line x1="1456.50" y1="943.95" x2="1468.50" y2="943.95" stroke="#222" stroke-width="1.2"/>
<text x="1461.90" y="915.50" font-size="29" text-anchor="middle" font-weight="bold" >19.4</text>
<line x1="1462.50" y1="993.00" x2="1462.50" y2="1005.00" stroke="#000" stroke-width="2"/>
<text x="1462.50" y="1033.75" font-size="25.5" text-anchor="middle" font-weight="bold" >0.75</text>
<line x1="896.75" y1="575.40" x2="896.75" y2="994.00" stroke="#000" stroke-width="2.2"/>
<line x1="884.75" y1="993.00" x2="1495.60" y2="993.00" stroke="#000" stroke-width="2.2"/>
<text x="905.05" y="618.00" font-size="41" text-anchor="start" font-weight="bold" >(d)</text>
<text x="1322.50" y="613.00" font-size="30.8" text-anchor="start" font-weight="bold" >TPB Assay</text>
<text transform="translate(821,783) rotate(-90)" font-size="32" text-anchor="middle" font-weight="bold">Cell Viability (%)</text>
<text x="1195.00" y="1075.50" font-size="32" text-anchor="middle" font-weight="bold" >Concentration (mg/mL)</text>
</svg>
</body></html>
